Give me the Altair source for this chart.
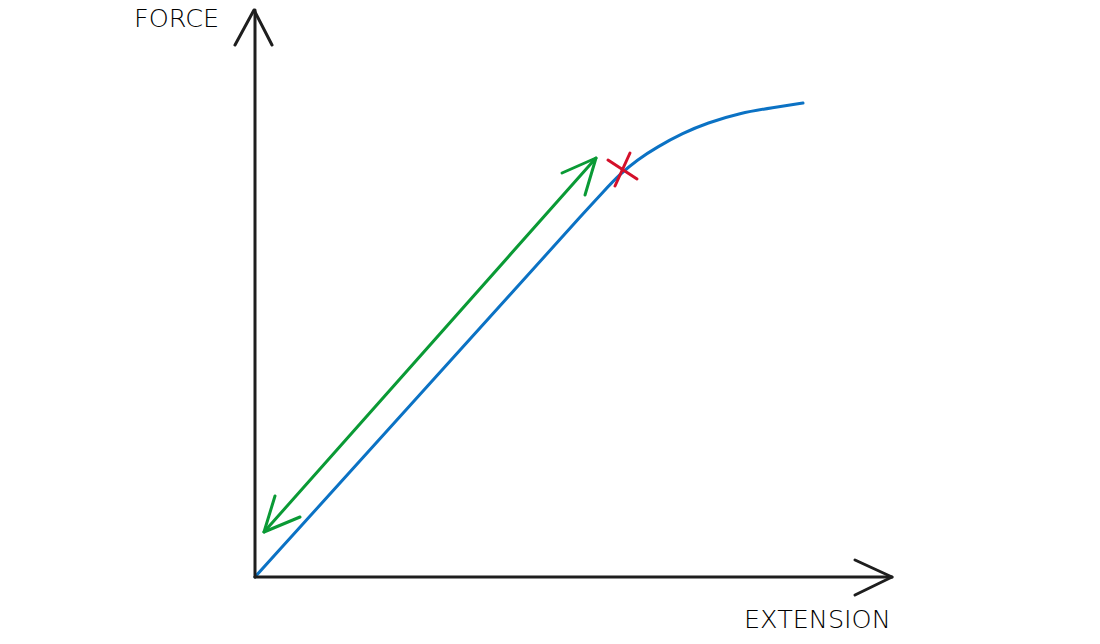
import altair as alt
import pandas as pd

# Blue force-extension curve (extension, force) in arbitrary units
curve_x = [0.0, 3.0, 6.0, 6.5, 6.96, 7.3, 7.64, 8.04, 8.56, 9.04, 9.7, 10.36, 10.96]
curve_y = [0.0, 3.32, 6.64, 7.2, 7.7, 8.06, 8.34, 8.6, 8.88, 9.08, 9.28, 9.39, 9.48]

# Axis arrows (hand-drawn)
yaxis_x = [0.0, 0.0]
yaxis_y = [0.0, 11.34]
yhead_x = [-0.4, -0.02, 0.34]
yhead_y = [10.64, 11.34, 10.64]
xaxis_x = [0.0, 12.74]
xaxis_y = [0.0, 0.0]
xhead_x = [12.0, 12.74, 12.0]
xhead_y = [0.34, 0.0, -0.36]

# Green double arrow (region of proportionality)
g_shaft_x = [0.18, 6.82]
g_shaft_y = [0.9, 8.38]
g_low_x = [0.4, 0.18, 0.9]
g_low_y = [1.62, 0.9, 1.2]
g_top_x = [6.14, 6.82, 6.6]
g_top_y = [8.08, 8.38, 7.64]

# Red cross (limit of proportionality)
r1_x = [7.06, 7.64]
r1_y = [8.34, 7.96]
r2_x = [7.5, 7.2]
r2_y = [8.48, 7.82]

labels = ["FORCE", "EXTENSION"]
label_x = [-2.42, 9.78]
label_y = [11.0, -1.02]

segs = [
    ("yaxis", "axis", yaxis_x, yaxis_y),
    ("yhead", "axis", yhead_x, yhead_y),
    ("xaxis", "axis", xaxis_x, xaxis_y),
    ("xhead", "axis", xhead_x, xhead_y),
    ("gshaft", "green", g_shaft_x, g_shaft_y),
    ("glow", "green", g_low_x, g_low_y),
    ("gtop", "green", g_top_x, g_top_y),
    ("r1", "red", r1_x, r1_y),
    ("r2", "red", r2_x, r2_y),
]
rows = []
for name, grp, xs_, ys_ in segs:
    for i, (a, b) in enumerate(zip(xs_, ys_)):
        rows.append({"seg": name, "grp": grp, "o": i, "x": a, "y": b})
seg_df = pd.DataFrame(rows)
curve_df = pd.DataFrame({"x": curve_x, "y": curve_y, "o": list(range(len(curve_x)))})
label_df = pd.DataFrame({"t": labels, "x": label_x, "y": label_y})

xs = alt.Scale(domain=[-4.94, 16.74], nice=False, zero=False)
ys = alt.Scale(domain=[-1.18, 11.38], nice=False, zero=False)
X = lambda: alt.X("x:Q", scale=xs, axis=None)
Y = lambda: alt.Y("y:Q", scale=ys, axis=None)

color = alt.Color(
    "grp:N",
    scale=alt.Scale(domain=["axis", "green", "red"], range=["#1e1e1e", "#0a9a35", "#d4102a"]),
    legend=None,
)

lines = alt.Chart(seg_df).mark_line(strokeWidth=3, strokeCap="round", strokeJoin="round").encode(
    x=X(), y=Y(), detail="seg:N", order="o:Q", color=color
)
curve = alt.Chart(curve_df).mark_line(
    strokeWidth=3, strokeCap="round", color="#0b72c4", interpolate="basis"
).encode(x=X(), y=Y(), order="o:Q")
text = alt.Chart(label_df).mark_text(
    align="left", baseline="alphabetic", fontSize=25.5, font="DejaVu Sans",
    fontWeight=300, color="#000000"
).encode(x=X(), y=Y(), text="t:N")

chart = alt.layer(curve, lines, text).properties(
    width=1084, height=628, padding=0,
    autosize=alt.AutoSizeParams(type="none"),
).configure(background="white", view=alt.ViewConfig(stroke=None))

chart.save("out.html", embed_options={"renderer": "svg", "actions": False})
